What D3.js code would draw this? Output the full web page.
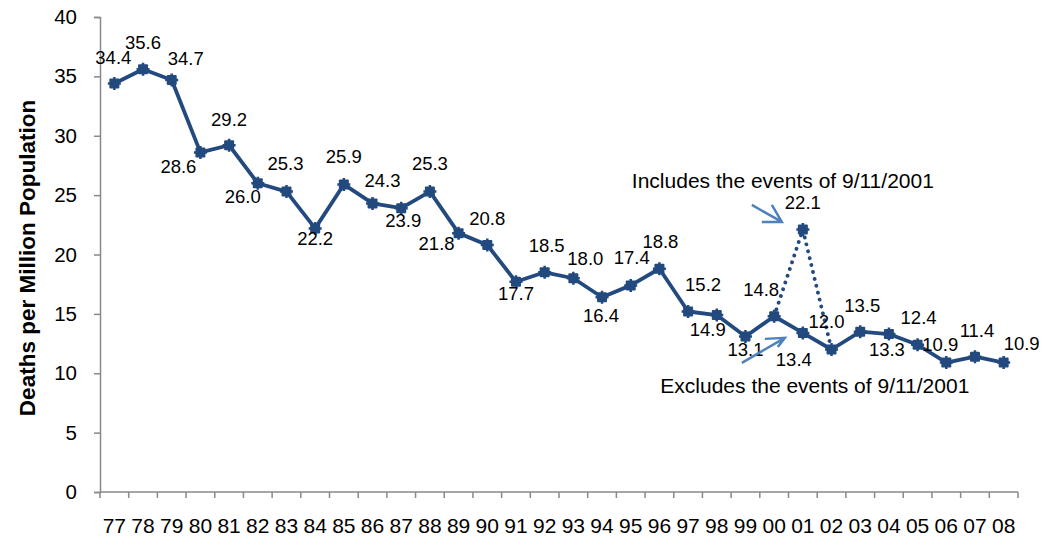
<!DOCTYPE html>
<html>
<head>
<meta charset="utf-8">
<script src="https://cdn.jsdelivr.net/npm/d3@7/dist/d3.min.js"></script>
<style>
  html, body { margin: 0; padding: 0; background: #fff; }
  svg { display: block; font-family: "Liberation Sans", Arial, sans-serif; }
</style>
</head>
<body>
<svg id="chart" width="1044" height="539"></svg>
<script>
// Years (two-digit) on the category axis
const years = ["77","78","79","80","81","82","83","84","85","86","87","88","89","90",
               "91","92","93","94","95","96","97","98","99","00","01","02","03","04",
               "05","06","07","08"];

// Deaths per million population, excluding the events of 9/11/2001
const deathsExcl = [34.4, 35.6, 34.7, 28.6, 29.2, 26.0, 25.3, 22.2, 25.9, 24.3, 23.9, 25.3,
                    21.8, 20.8, 17.7, 18.5, 18.0, 16.4, 17.4, 18.8, 15.2, 14.9, 13.1, 14.8,
                    13.4, 12.0, 13.5, 13.3, 12.4, 10.9, 11.4, 10.9];

// Segment including the events of 9/11/2001
const inclYears = ["00", "01", "02"];
const deathsIncl = [14.8, 22.1, 12.0];

// Y axis tick values
const yTicks = [0, 5, 10, 15, 20, 25, 30, 35, 40];

// Label placement (dx, dy in px from each point)
const labelShift = [
  [-1,-26],[0,-27],[14,-21],[-22,14],[0,-26],[-15,13],[-1,-28],[0,10],[0,-28],[10,-23],
  [2,12],[0,-28],[-22,10],[0,-26],[0,12],[2,-27],[12,-20],[-1,18],[1,-28],[1,-27],
  [15,-27],[-9,14],[0,13],[-13,-27],[-9,27],[-5,-28],[2,-26],[-2,15],[1,-27],[-6,-18],
  [2,-26],[18,-19]
];

const lineColor = "#234a7e";
const arrowColor = "#4f81bd";
const axisColor = "#898989";

const svg = d3.select("#chart");

const x = d3.scaleBand().domain(years).range([100, 1018]).padding(0);
const y = d3.scaleLinear().domain([0, 40]).range([492, 17]);
const cx = d => x(d) + x.bandwidth() / 2;

// Y axis
const yAxis = svg.append("g")
  .attr("transform", "translate(100,0)")
  .call(d3.axisLeft(y).tickValues(yTicks).tickSize(6).tickPadding(17).tickFormat(d3.format("d")));
yAxis.select(".domain").attr("stroke", axisColor).attr("stroke-width", 1.5);
yAxis.selectAll(".tick line").attr("stroke", axisColor).attr("stroke-width", 1.5);
yAxis.selectAll(".tick text").attr("font-size", 20.5).attr("fill", "#000")
  .attr("font-family", "Liberation Sans, Arial, sans-serif");

// X axis: ticks sit between categories
const xAxis = svg.append("g").attr("transform", `translate(0,${y(0)})`);
xAxis.append("line")
  .attr("x1", x.range()[0]).attr("x2", x.range()[1])
  .attr("stroke", axisColor).attr("stroke-width", 1.5);
const bounds = years.map(d => x(d)).concat([x.range()[1]]);
xAxis.selectAll("line.tk").data(bounds).join("line").attr("class", "tk")
  .attr("x1", d => d).attr("x2", d => d).attr("y1", 0).attr("y2", 6)
  .attr("stroke", axisColor).attr("stroke-width", 1.5);
xAxis.selectAll("text").data(years).join("text")
  .attr("x", d => cx(d)).attr("y", 41)
  .attr("text-anchor", "middle").attr("font-size", 21).attr("fill", "#000")
  .text(d => d);

// Y axis title
svg.append("text")
  .attr("transform", "translate(27,258) rotate(-90)")
  .attr("text-anchor", "middle").attr("dy", "0.35em")
  .attr("font-size", 22.5).attr("font-weight", "bold").attr("fill", "#000")
  .text("Deaths per Million Population");

// Dotted segment including 9/11/2001
const inclData = inclYears.map((d, i) => ({ year: d, value: deathsIncl[i] }));
svg.append("path")
  .datum(inclData)
  .attr("fill", "none").attr("stroke", lineColor).attr("stroke-width", 3.8)
  .attr("stroke-linecap", "round").attr("stroke-dasharray", "0.1 7")
  .attr("d", d3.line().x(d => cx(d.year)).y(d => y(d.value)));

// Main series line
const mainData = years.map((d, i) => ({ year: d, value: deathsExcl[i] }));
svg.append("path")
  .datum(mainData)
  .attr("fill", "none").attr("stroke", lineColor).attr("stroke-width", 3.8)
  .attr("stroke-linejoin", "round")
  .attr("d", d3.line().x(d => cx(d.year)).y(d => y(d.value)));

// Markers: square with short cross arms
function marker(g, data) {
  const m = g.selectAll(null).data(data).join("g")
    .attr("transform", d => `translate(${cx(d.year)},${y(d.value)})`);
  m.append("rect").attr("x", -5).attr("y", -5).attr("width", 10).attr("height", 10)
    .attr("rx", 1).attr("fill", lineColor);
  m.append("path").attr("d", "M-6.5,0H6.5M0,-6.5V6.5")
    .attr("stroke", lineColor).attr("stroke-width", 2.5);
}
marker(svg.append("g"), mainData);
marker(svg.append("g"), [inclData[1]]);

// Data labels
svg.append("g").selectAll("text").data(mainData).join("text")
  .attr("x", (d, i) => cx(d.year) + labelShift[i][0])
  .attr("y", (d, i) => y(d.value) + labelShift[i][1])
  .attr("dy", "0.35em").attr("text-anchor", "middle")
  .attr("font-size", 18.5).attr("fill", "#000")
  .text(d => d.value.toFixed(1));

const peak = inclData[1];
svg.append("text")
  .attr("x", cx(peak.year)).attr("y", y(peak.value) - 27)
  .attr("dy", "0.35em").attr("text-anchor", "middle")
  .attr("font-size", 18.5).attr("fill", "#000")
  .text(peak.value.toFixed(1));

// Annotations
const xa = cx("01");
const yInc = y(peak.value);
const yExc = y(deathsExcl[years.indexOf("01")]);

svg.append("text")
  .attr("x", xa - 20).attr("y", yInc - 41.5)
  .attr("text-anchor", "middle").attr("font-size", 21).attr("fill", "#000")
  .text("Includes the events of 9/11/2001");
svg.append("text")
  .attr("x", xa + 12).attr("y", yExc + 60)
  .attr("text-anchor", "middle").attr("font-size", 21).attr("fill", "#000")
  .text("Excludes the events of 9/11/2001");

function arrow(x0, y0, x1, y1, a1, a2) {
  svg.append("path")
    .attr("d", `M${x0},${y0}L${x1},${y1}M${a1[0]},${a1[1]}L${x1},${y1}L${a2[0]},${a2[1]}`)
    .attr("fill", "none").attr("stroke", arrowColor).attr("stroke-width", 2.5)
    .attr("stroke-linejoin", "miter");
}
arrow(xa - 51, yInc - 24.6, xa - 21, yInc - 7.6, [xa - 41, yInc - 7.6], [xa - 31, yInc - 24.6]);
arrow(xa - 61, yExc + 30, xa - 18, yExc + 5, [xa - 38, yExc + 6], [xa - 25, yExc + 14]);
</script>
</body>
</html>
